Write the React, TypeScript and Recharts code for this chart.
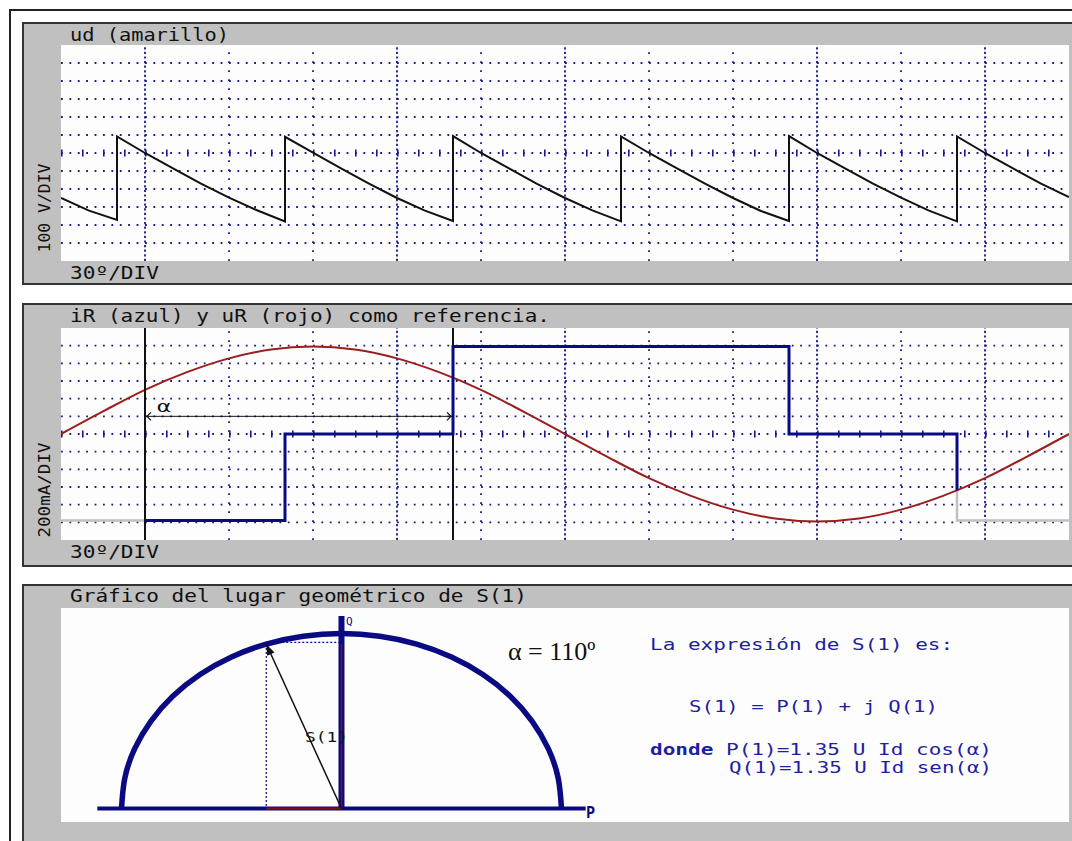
import React from 'react'
import { LineChart, XAxis, YAxis, Line, ReferenceLine } from 'recharts'

// ud: rectified output voltage, one grid row = 100 V
const udDeg = [0, 10, 20, 20, 30, 40, 50, 60, 70, 80, 80, 90, 100, 110, 120, 130, 140, 140, 150, 160, 170, 180, 190, 200, 200, 210, 220, 230, 240, 250, 260, 260, 270, 280, 290, 300, 310, 320, 320, 330, 340, 350, 360]
const udVolts = [-250, -320, -372, 92, 0, -86, -170, -248, -318, -380, 90, 2, -86, -170, -250, -320, -378, 94, 0, -86, -172, -250, -320, -380, 92, 0, -86, -170, -250, -322, -378, 94, 0, -86, -170, -248, -320, -380, 92, 0, -86, -170, -245]

// uR reference voltage and iR line current, one grid row = 100 mA
const uRDeg = [0, 15, 30, 45, 60, 75, 90, 105, 120, 135, 150, 165, 180, 195, 210, 225, 240, 255, 270, 285, 300, 315, 330, 345, 360]
const uRValues = [0, 128, 250, 350, 428, 478, 495, 478, 428, 350, 250, 128, 0, -128, -250, -350, -428, -478, -495, -478, -428, -350, -250, -128, 0]
const iRDeg = [30, 80, 80, 140, 140, 260, 260, 320, 320]
const iRValues = [-490, -490, 0, 0, 495, 495, 0, 0, -318]
const iRPrevDeg = [0, 30, 175, 320, 320, 360]
const iRPrevValues: (number | null)[] = [-490, -490, null, -318, -490, -490]
const cursorDeg = [30, 140]
const alphaArrowLevel = 100

// S(1) locus: unit semicircle in the P/Q plane, operating point at alpha
const arcP = [1, 0.985, 0.94, 0.866, 0.766, 0.643, 0.5, 0.342, 0.174, 0, -0.174, -0.342, -0.5, -0.643, -0.766, -0.866, -0.94, -0.985, -1]
const arcQ = [0, 0.174, 0.342, 0.5, 0.643, 0.766, 0.866, 0.94, 0.985, 1, 0.985, 0.94, 0.866, 0.766, 0.643, 0.5, 0.342, 0.174, 0]
const s1P = -0.342
const s1Q = 0.94
const pAxisEnds = [-1.11, 1.11]
const qAxisTop = 1.1
const locusPDomain = [-1.275, 3.307]
const locusQDomain = [-0.077, 1.146]

// scope graticule
const majorDeg = [30, 60, 90, 120, 150, 180, 210, 240, 270, 300, 330]
const denseDeg = [30, 120, 180, 270, 330]
const gridRows = [-500, -400, -300, -200, -100, 0, 100, 200, 300, 400, 500]

const GRAY = '#c0c0c0'
const DOT = '#1a1a8c'
const NAVY = '#0a0a82'
const RED = '#9a1e1e'
const INK = '#111'
const TXT = '#1e1ea2'
const MONO = '"DejaVu Sans Mono", monospace'

const PLOT_W = 1008
const noMargin = { top: 0, right: 0, bottom: 0, left: 0 }

const rows = (xs: number[], ys: (number | null)[]) => xs.map((x, i) => ({ deg: x, v: ys[i] }))
const pq = (ps: number[], qs: number[]) => ps.map((p, i) => ({ p, q: qs[i] }))

const udData = rows(udDeg, udVolts)
const uRData = rows(uRDeg, uRValues)
const iRData = rows(iRDeg, iRValues)
const iRPrevData = rows(iRPrevDeg, iRPrevValues)
const alphaArrow = rows(cursorDeg, [alphaArrowLevel, alphaArrowLevel])

const arcData = pq(arcP, arcQ)
const pAxis = pq(pAxisEnds, [0, 0])
const qAxis = pq([0, 0], [0, qAxisTop])
const s1Vector = pq([0, s1P], [0, s1Q])
const pComponent = pq([s1P, 0], [0, 0])
const qComponent = pq([0, 0], [0, s1Q])
const dropP = pq([s1P, s1P], [s1Q, 0])
const dropQ = pq([s1P, 0], [s1Q + 0.01, s1Q + 0.01])

function graticule() {
  return [
    ...gridRows.map((r) => (
      <ReferenceLine key={'h' + r} y={r} stroke={DOT} strokeWidth={1.8} strokeDasharray="1.8 6.6" />
    )),
    <ReferenceLine key="ticks" y={0} stroke={DOT} strokeWidth={7} strokeDasharray="1.6 19.4" />,
    ...majorDeg.map((d) => (
      <ReferenceLine
        key={'v' + d}
        x={d}
        stroke={DOT}
        strokeWidth={1.8}
        strokeDasharray={denseDeg.includes(d) ? '2.2 2.4' : '1.8 7.2'}
      />
    )),
  ]
}

function UdChart() {
  return (
    <LineChart width={PLOT_W} height={216} margin={noMargin}>
      <XAxis type="number" dataKey="deg" domain={[0, 360]} hide allowDataOverflow />
      <YAxis type="number" domain={[-600, 600]} hide allowDataOverflow />
      {graticule()}
      <Line data={udData} dataKey="v" type="linear" stroke={INK} strokeWidth={2} dot={false} isAnimationActive={false} />
    </LineChart>
  )
}

// open chevrons at both ends of the alpha dimension line
function chevron(props: any) {
  const { cx, cy, index } = props
  const dir = index === 0 ? 1 : -1
  return (
    <polyline
      key={'chev' + index}
      points={`${cx + dir * 6},${cy - 4} ${cx + dir * 2},${cy} ${cx + dir * 6},${cy + 4}`}
      fill="none"
      stroke={INK}
      strokeWidth={1.2}
    />
  )
}

function CurrentChart() {
  return (
    <LineChart width={PLOT_W} height={212} margin={noMargin}>
      <XAxis type="number" dataKey="deg" domain={[0, 360]} hide allowDataOverflow />
      <YAxis type="number" domain={[-600, 600]} hide allowDataOverflow />
      {graticule()}
      <Line data={iRPrevData} dataKey="v" type="linear" stroke={GRAY} strokeWidth={2.5} dot={false} connectNulls={false} isAnimationActive={false} />
      <Line data={uRData} dataKey="v" type="monotone" stroke={RED} strokeWidth={2} dot={false} isAnimationActive={false} />
      {cursorDeg.map((d) => (
        <ReferenceLine key={'c' + d} x={d} stroke={INK} strokeWidth={2} />
      ))}
      <Line data={iRData} dataKey="v" type="linear" stroke={NAVY} strokeWidth={3} dot={false} isAnimationActive={false} />
      <Line data={alphaArrow} dataKey="v" type="linear" stroke={INK} strokeWidth={1} dot={chevron} isAnimationActive={false} />
    </LineChart>
  )
}

// arrowhead at the tip of S(1), turned along the vector on screen
const pxPerP = PLOT_W / (locusPDomain[1] - locusPDomain[0])
const pxPerQ = 214 / (locusQDomain[1] - locusQDomain[0])
const s1Angle = (Math.atan2(-s1Q * pxPerQ, s1P * pxPerP) * 180) / Math.PI

function s1Head(props: any) {
  const { cx, cy, index } = props
  if (index !== 1) return <g key={'s' + index} />
  return (
    <polygon
      key="s1head"
      points="0,0 -11,-4 -11,4"
      fill={INK}
      transform={`translate(${cx},${cy}) rotate(${s1Angle})`}
    />
  )
}

function LocusChart() {
  return (
    <LineChart width={PLOT_W} height={214} margin={noMargin}>
      <XAxis type="number" dataKey="p" domain={locusPDomain} hide allowDataOverflow />
      <YAxis type="number" domain={locusQDomain} hide allowDataOverflow />
      <Line data={arcData} dataKey="q" type="natural" stroke={NAVY} strokeWidth={5.5} dot={false} isAnimationActive={false} />
      <Line data={dropP} dataKey="q" type="linear" stroke={NAVY} strokeWidth={1.2} strokeDasharray="2 2" dot={false} isAnimationActive={false} />
      <Line data={dropQ} dataKey="q" type="linear" stroke={NAVY} strokeWidth={1.2} strokeDasharray="2 2" dot={false} isAnimationActive={false} />
      <Line data={pAxis} dataKey="q" type="linear" stroke={NAVY} strokeWidth={4} dot={false} isAnimationActive={false} />
      <Line data={qAxis} dataKey="q" type="linear" stroke={NAVY} strokeWidth={6} dot={false} isAnimationActive={false} />
      <Line data={pComponent} dataKey="q" type="linear" stroke="#7a1020" strokeWidth={2} dot={false} isAnimationActive={false} />
      <Line data={qComponent} dataKey="q" type="linear" stroke="#7a1020" strokeWidth={1.5} dot={false} isAnimationActive={false} />
      <Line data={s1Vector} dataKey="q" type="linear" stroke={INK} strokeWidth={1.5} dot={s1Head} isAnimationActive={false} />
    </LineChart>
  )
}

function Frame({ top, height }: { top: number; height: number }) {
  return (
    <div
      style={{
        position: 'absolute',
        left: 22,
        top,
        width: 1070,
        height,
        boxSizing: 'border-box',
        background: GRAY,
        borderTop: '2px solid #333',
        borderLeft: '2px solid #333',
        borderBottom: '2px solid #333',
      }}
    />
  )
}

function Plot({ top, height, children }: { top: number; height: number; children: React.ReactNode }) {
  return (
    <div style={{ position: 'absolute', left: 61, top, width: PLOT_W, height, background: '#fdfdfd' }}>
      {children}
    </div>
  )
}

export default function App() {
  return (
    <div style={{ position: 'absolute', left: 0, top: 0, width: 1072, height: 841, overflow: 'hidden', background: '#fff' }}>
      <div style={{ position: 'absolute', left: 9, top: 9, width: 1080, height: 850, borderTop: '2px solid #222', borderLeft: '2px solid #222' }} />
      <Frame top={22} height={263} />
      <Frame top={303} height={264} />
      <Frame top={584} height={280} />
      <Plot top={45} height={216}>
        <UdChart />
      </Plot>
      <Plot top={328} height={212}>
        <CurrentChart />
      </Plot>
      <Plot top={608} height={214}>
        <LocusChart />
      </Plot>

      <svg width={1072} height={841} style={{ position: 'absolute', left: 0, top: 0, pointerEvents: 'none' }}>
        <g fontFamily={MONO} fontSize={17} fill={INK}>
          <text x={70} y={41} textLength={159} lengthAdjust="spacingAndGlyphs">ud (amarillo)</text>
          <text x={70} y={279} textLength={89} lengthAdjust="spacingAndGlyphs">30º/DIV</text>
          <text x={50} y={208} fontSize={16} textAnchor="middle" transform="rotate(-90 50 208)" textLength={89} lengthAdjust="spacingAndGlyphs">100 V/DIV</text>

          <text x={70} y={322} textLength={480} lengthAdjust="spacingAndGlyphs">iR (azul) y uR (rojo) como referencia.</text>
          <text x={70} y={558} textLength={89} lengthAdjust="spacingAndGlyphs">30º/DIV</text>
          <text x={50} y={490} fontSize={16} textAnchor="middle" transform="rotate(-90 50 490)" textLength={95} lengthAdjust="spacingAndGlyphs">200mA/DIV</text>
          <text x={157} y={412} fontSize={15} textLength={14} lengthAdjust="spacingAndGlyphs">α</text>

          <text x={70} y={602} textLength={457} lengthAdjust="spacingAndGlyphs">Gráfico del lugar geométrico de S(1)</text>
          <text x={305} y={742} fontSize={14} textLength={43} lengthAdjust="spacingAndGlyphs">S(1)</text>
        </g>
        <text x={346} y={625} fontFamily={MONO} fontSize={11} fill={NAVY}>Q</text>
        <text x={586} y={818} fontFamily={MONO} fontSize={15} fontWeight="bold" fill={NAVY}>P</text>
        <text x={508} y={660} fontFamily='"Liberation Serif", serif' fontSize={26} fill={INK}>α = 110º</text>
        <g fontFamily={MONO} fontSize={16} fill={TXT}>
          <text x={650} y={650} textLength={303} lengthAdjust="spacingAndGlyphs">La expresión de S(1) es:</text>
          <text x={689} y={712} textLength={249} lengthAdjust="spacingAndGlyphs">S(1) = P(1) + j Q(1)</text>
          <text x={650} y={755} fontSize={15} textLength={342} lengthAdjust="spacingAndGlyphs">
            <tspan fontWeight="bold">donde</tspan> P(1)=1.35 U Id cos(α)
          </text>
          <text x={729} y={773} fontSize={15} textLength={263} lengthAdjust="spacingAndGlyphs">Q(1)=1.35 U Id sen(α)</text>
        </g>
      </svg>
    </div>
  )
}
